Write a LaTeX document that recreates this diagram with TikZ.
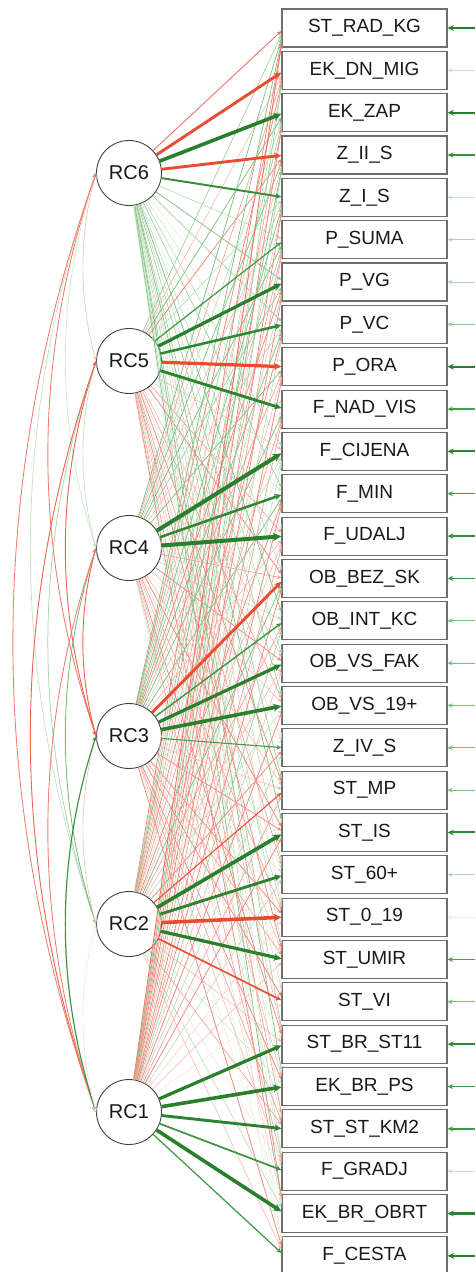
\documentclass[tikz,border=0pt]{standalone}
\usepackage{fontspec}
\setmainfont{Liberation Sans}
\usetikzlibrary{arrows.meta}
\definecolor{posc}{RGB}{40,128,45}
\definecolor{posmid}{RGB}{100,190,100}
\definecolor{negc}{RGB}{235,75,45}
\definecolor{negmid}{RGB}{238,95,80}
\definecolor{boxc}{RGB}{110,110,110}
\tikzset{
  indic/.style={draw=boxc, line width=1.1pt, fill=white, minimum width=165pt, minimum height=38pt, inner sep=0pt, font=\fontsize{19}{22}\selectfont, text=black!90},
  factor/.style={circle, draw=black!75, line width=0.9pt, fill=white, minimum size=65pt, inner sep=0pt, font=\fontsize{20}{24}\selectfont, text=black!90},
  tipend/.style={-{Stealth[length=3.5pt 1.3, width=3pt 1.3]}},
  tipboth/.style={{Stealth[length=4pt 1.2, width=3.2pt 1.2]}-{Stealth[length=4pt 1.2, width=3.2pt 1.2]}},
}
% colour of an edge from its absolute value: dark part \pc, whiteness \pcw
\newcommand\edgecol[2]{% #1 value, #2 divisor for fading
  \pgfmathsetmacro\av{abs(#1)}
  \pgfmathtruncatemacro\pc{min(100,100*\av/0.8)}
  \pgfmathtruncatemacro\pcw{min(100,100*\av/#2)}
  \pgfmathtruncatemacro\isneg{#1<0 ? 1 : 0}
  \ifnum\isneg=1 \edef\ecol{negc!\pc!negmid!\pcw!white}\else\edef\ecol{posc!\pc!posmid!\pcw!white}\fi
}
\newcommand\ldrow[3]{%
  \foreach \v [count=\i] in {#3} {
    \pgfmathsetmacro\av{abs(\v)}
    \pgfmathtruncatemacro\isstrong{\av<0.4 ? 0 : 1}
    \ifnum\isstrong=#2\relax
      \edgecol{\v}{0.42}
      \pgfmathsetmacro\lw{0.35+4.5*\av*\av}
      \pgfmathsetmacro\off{max(-16,min(16,0.02*((#1==6?173:(#1==5?361:(#1==4?548:(#1==3?736:(#1==2?924:1112))))) - (28+(\i-1)*42.34))))}
      \draw[tipend, line width=\lw pt, draw=\ecol] (rc#1) -- ([yshift=-\off pt]b\i.west);
    \fi
  }%
}
\newcommand\allrows[1]{%
  \ldrow{6}{#1}{-0.35,-0.75,0.85,-0.75,0.6,0.2,0.3,0.25,-0.1,0.15,0.2,0.25,0.1,0.2,0.3,0.2,0.25,-0.1,0.25,0.3,0.2,-0.15,0.2,0.1,0.25,0.3,0.15,0.2,0.3,0.1}
  \ldrow{5}{#1}{0.25,-0.2,0.3,-0.3,0.2,0.45,0.8,0.7,-0.8,0.75,-0.2,0.15,-0.25,-0.3,0.1,-0.2,-0.25,0.15,-0.3,-0.1,-0.25,0.2,-0.3,-0.15,-0.2,0.1,-0.25,0.15,-0.3,-0.1}
  \ldrow{4}{#1}{0.3,-0.25,0.2,0.3,-0.2,0.3,0.25,-0.2,0.3,-0.1,0.9,0.7,0.9,-0.25,0.2,-0.3,-0.2,0.1,-0.2,-0.3,0.15,-0.25,-0.2,0.1,-0.3,-0.2,0.15,-0.25,-0.15,0.1}
  \ldrow{3}{#1}{0.3,-0.3,0.25,-0.2,0.3,0.25,-0.3,0.3,-0.25,0.3,0.2,0.3,-0.2,-0.75,0.5,0.8,0.85,0.42,-0.2,-0.3,0.15,-0.3,-0.25,-0.3,0.1,-0.3,-0.25,-0.2,0.1,-0.3}
  \ldrow{2}{#1}{-0.3,0.2,-0.25,0.3,-0.2,-0.25,0.2,-0.3,-0.2,-0.25,0.15,-0.3,-0.2,0.3,-0.25,-0.2,0.2,-0.3,-0.42,0.85,0.75,-0.85,0.8,-0.55,-0.2,0.15,-0.25,-0.1,0.2,-0.2}
  \ldrow{1}{#1}{-0.35,0.25,-0.3,0.25,-0.3,-0.25,-0.3,0.2,-0.3,-0.25,0.2,-0.3,-0.25,-0.3,0.25,-0.2,-0.3,0.2,-0.25,-0.3,0.2,-0.15,-0.2,-0.1,0.8,0.85,0.75,0.55,0.85,0.45}
}
\begin{document}
\begin{tikzpicture}[x=1pt,y=-1pt]
\useasboundingbox (0,0) rectangle (475,1272);
% indicators
\foreach \lab [count=\i] in {ST\_RAD\_KG,EK\_DN\_MIG,EK\_ZAP,Z\_II\_S,Z\_I\_S,P\_SUMA,P\_VG,P\_VC,P\_ORA,F\_NAD\_VIS,F\_CIJENA,F\_MIN,F\_UDALJ,OB\_BEZ\_SK,OB\_INT\_KC,OB\_VS\_FAK,OB\_VS\_19+,Z\_IV\_S,ST\_MP,ST\_IS,ST\_60+,ST\_0\_19,ST\_UMIR,ST\_VI,ST\_BR\_ST11,EK\_BR\_PS,ST\_ST\_KM2,F\_GRADJ,EK\_BR\_OBRT,F\_CESTA} {
  \pgfmathsetmacro\yy{28+(\i-1)*42.34}
  \node[indic] (b\i) at (364.5,\yy) {\lab};
  \coordinate (r\i) at (475,\yy);
}
% factors
\foreach \k/\yy in {6/173,5/361,4/548,3/736,2/924,1/1112}
  \node[factor] (rc\k) at (129,\yy) {RC\k};
% loadings: weak first, then strong
\allrows{0}
\allrows{1}
% residuals
\foreach \v [count=\i] in {0.8,0.15,0.8,0.6,0.15,0.2,0.2,0.25,0.8,0.4,0.75,0.4,0.6,0.55,0.3,0.3,0.3,0.3,0.3,0.7,0.2,0.08,0.4,0.3,0.7,0.45,0.5,0.15,0.75,0.85} {
  \edgecol{\v}{0.4}
  \pgfmathsetmacro\lw{0.6+2*\v}
  \draw[tipend, line width=\lw pt, draw=\ecol] (r\i) -- (b\i);
}
% factor covariances
\foreach \a/\b/\v in {6/5/-0.15,6/4/0.12,6/3/-0.3,6/2/0.15,6/1/-0.3,5/4/0.15,5/3/-0.35,5/2/0.2,5/1/-0.35,4/3/-0.35,4/2/0.3,4/1/-0.3,3/2/-0.15,3/1/0.55,2/1/-0.08} {
  \pgfmathsetmacro\dd{(\a-\b)*188}
  \pgfmathsetmacro\cx{(0.093*\dd-4.5)/0.75}
  \pgfmathsetmacro\sy{\dd/3}
  \edgecol{\v}{0.38}
  \pgfmathsetmacro\lw{0.5+1.2*\av}
  \draw[tipboth, line width=\lw pt, draw=\ecol] (rc\a.west) .. controls +(-\cx,\sy) and +(-\cx,-\sy) .. (rc\b.west);
}
\end{tikzpicture}
\end{document}
